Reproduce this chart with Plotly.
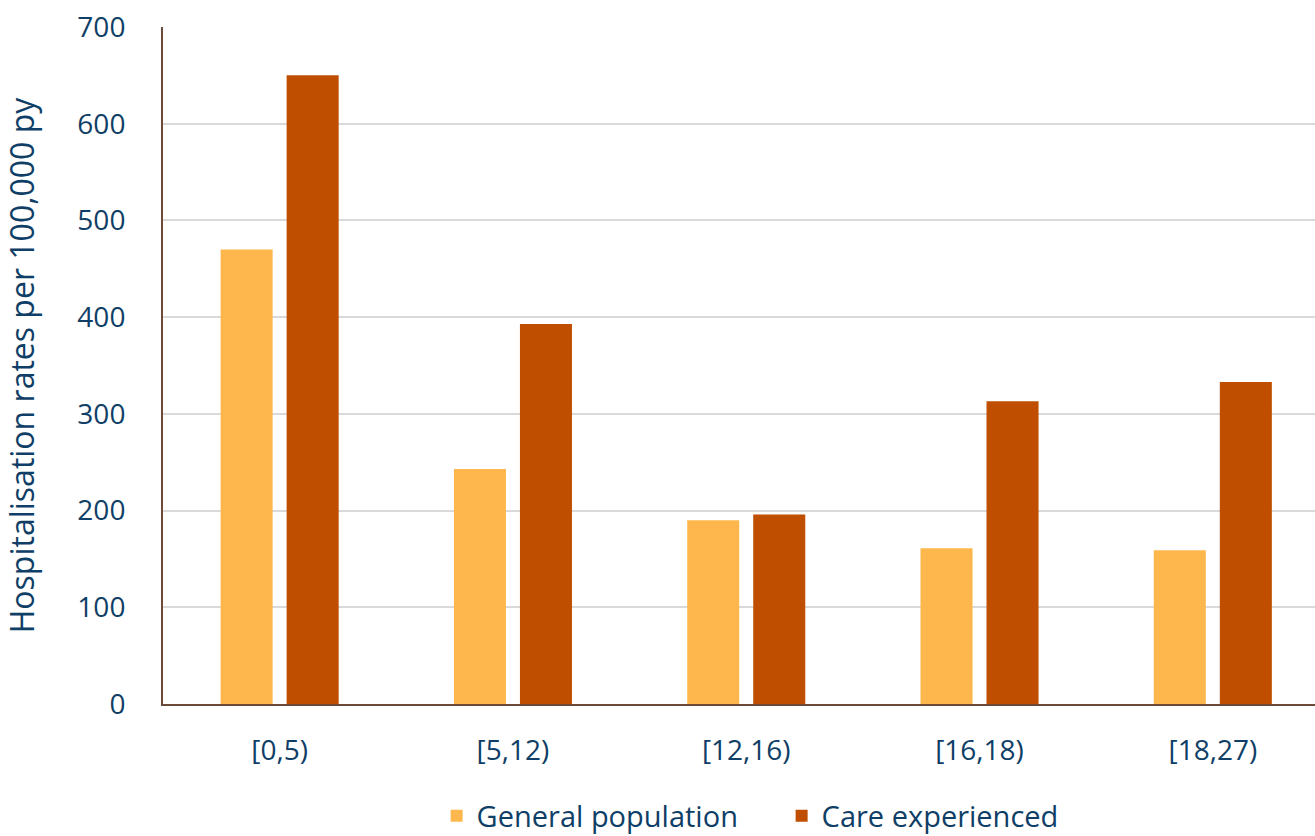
import plotly.graph_objects as go

# Age bands and hospitalisation rates per 100,000 person-years
age_bands = ["[0,5)", "[5,12)", "[12,16)", "[16,18)", "[18,27)"]
general_population = [470, 243, 190, 161, 159]
care_experienced = [650, 393, 196, 313, 333]

y_ticks = [0, 100, 200, 300, 400, 500, 600, 700]

TEXT_BLUE = "#0F3E66"
AXIS_BROWN = "#6B4A3A"
FONT = "Open Sans"

fig = go.Figure()
fig.add_trace(go.Bar(
    x=age_bands, y=general_population, name="General population",
    marker=dict(color="#FEB74C", line=dict(width=0)),
))
fig.add_trace(go.Bar(
    x=age_bands, y=care_experienced, name="Care experienced",
    marker=dict(color="#BF4E00", line=dict(width=0)),
))

fig.update_layout(
    width=1315, height=836,
    margin=dict(l=163, r=0, t=27, b=132, autoexpand=False),
    paper_bgcolor="white", plot_bgcolor="white",
    barmode="group", bargap=0.434, bargroupgap=0.212,
    font=dict(family=FONT, color=TEXT_BLUE, size=28),
    legend=dict(
        orientation="h", x=0.537, xanchor="center", y=-0.1654, yanchor="middle",
        font=dict(size=29, color=TEXT_BLUE),
        entrywidth=300, entrywidthmode="pixels",
    ),
    xaxis=dict(
        type="category", range=[-0.5, 4.438],
        showline=True, linecolor=AXIS_BROWN, linewidth=2,
        showgrid=False, ticks="", ticklabelstandoff=20,
        tickfont=dict(size=28, color=TEXT_BLUE),
    ),
    yaxis=dict(
        range=[0, 700], tickvals=y_ticks,
        showline=True, linecolor=AXIS_BROWN, linewidth=2,
        showgrid=True, gridcolor="#D9D9D9", gridwidth=2,
        zeroline=False, ticks="", ticklabelstandoff=30,
        tickfont=dict(size=28, color=TEXT_BLUE),
        title=dict(text="Hospitalisation rates per 100,000 py",
                   font=dict(size=32, color=TEXT_BLUE), standoff=36),
        automargin=False,
    ),
)

fig.write_html("out.html")
